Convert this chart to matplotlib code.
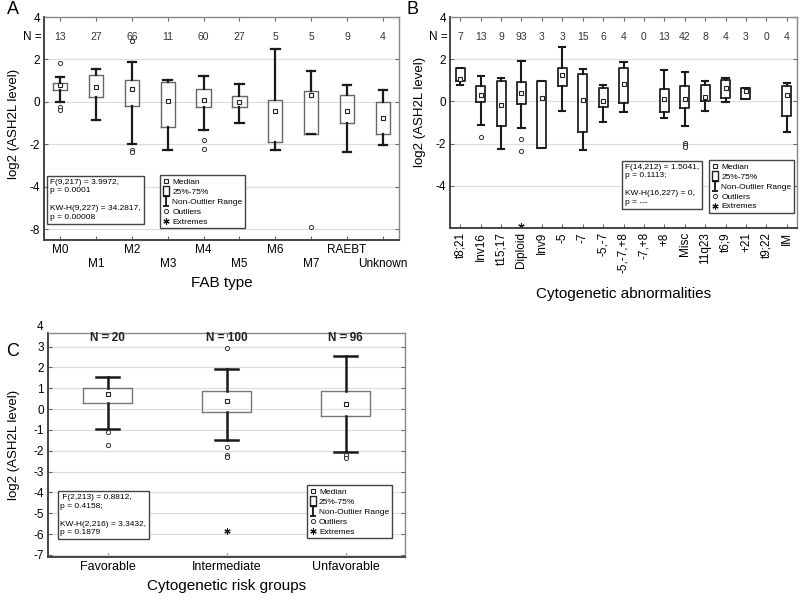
import matplotlib
matplotlib.use('Agg')
import matplotlib.pyplot as plt
import numpy as np
from matplotlib.lines import Line2D
from matplotlib.path import Path

plt.rcParams['font.family'] = ['Liberation Sans', 'DejaVu Sans']

nan = np.nan

# Panel A: FAB type
a_cats = ['M0', 'M1', 'M2', 'M3', 'M4', 'M5', 'M6', 'M7', 'RAEBT', 'Unknown']
a_n = [13, 27, 66, 11, 60, 27, 5, 5, 9, 4]
a_med = [0.80, 0.70, 0.60, 0.05, 0.10, 0.02, -0.41, 0.33, -0.44, -0.76]
a_q1 = [0.56, 0.22, -0.20, -1.19, -0.25, -0.22, -1.90, -1.52, -1.00, -1.52]
a_q3 = [0.90, 1.28, 1.02, 0.93, 0.60, 0.29, 0.08, 0.50, 0.31, 0.02]
a_lo = [0.00, -0.86, -1.99, -2.27, -1.34, -0.97, -2.27, -1.52, -2.37, -2.04]
a_hi = [1.18, 1.53, 1.87, 1.02, 1.24, 0.86, 2.51, 1.47, 0.78, 0.58]
a_out = [[1.82, -0.25, -0.38], [], [2.87, -2.25, -2.38], [], [-1.80, -2.22],
         [], [], [-5.90], [], []]
a_ext = [[], [], [], [], [], [], [], [], [], []]

# Panel B: cytogenetic abnormalities
b_cats = ['t8;21', 'Inv16', 't15;17', 'Diploid', 'Inv9', '-5', '-7', '-5,-7',
          '-5,-7,+8', '-7,+8', '+8', 'Misc', '11q23', 't6;9', '+21', 't9;22', 'IM']
b_n = [7, 13, 9, 93, 3, 3, 15, 6, 4, 0, 13, 42, 8, 4, 3, 0, 4]
b_med = [1.08, 0.32, -0.16, 0.40, 0.16, 1.27, 0.05, 0.02, 0.84, nan,
         0.13, 0.13, 0.19, 0.63, 0.47, nan, 0.32]
b_q1 = [0.98, -0.01, -1.18, -0.12, -2.21, 0.71, -1.47, -0.27, -0.08, nan,
        -0.52, -0.31, 0.00, 0.14, 0.13, nan, -0.71]
b_q3 = [1.58, 0.71, 0.95, 0.92, 0.95, 1.58, 1.30, 0.63, 1.58, nan,
        0.60, 0.73, 0.76, 1.00, 0.63, nan, 0.71]
b_lo = [0.76, -1.10, -2.26, -1.26, -2.21, -0.44, -2.32, -1.00, -0.50, nan,
        -0.79, -1.18, -0.47, -0.05, 0.13, nan, -1.47]
b_hi = [1.58, 1.22, 1.09, 1.93, 0.95, 2.56, 1.53, 0.79, 1.87, nan,
        1.47, 1.39, 0.95, 1.11, 0.63, nan, 0.87]
b_out = [[], [-1.67], [], [-1.78, -2.37], [], [], [], [], [], [],
         [], [-1.97, -2.08, -2.16], [], [], [], [], []]
b_ext = [[], [], [], [-5.92], [], [], [], [], [], [], [], [], [], [], [], [], []]

# Panel C: cytogenetic risk groups
c_cats = ['Favorable', 'Intermediate', 'Unfavorable']
c_n = [20, 100, 96]
c_med = [0.70, 0.38, 0.24]
c_q1 = [0.27, -0.13, -0.35]
c_q3 = [1.02, 0.88, 0.88]
c_lo = [-0.96, -1.48, -2.04]
c_hi = [1.55, 1.91, 2.55]
c_out = [[-1.12, -1.72], [2.95, -1.80, -2.20, -2.30], [-2.20, -2.33]]
c_ext = [[], [-5.87], []]

a_stats = 'F(9,217) = 3.9972,\np = 0.0001\n\nKW-H(9,227) = 34.2817,\np = 0.00008'
b_stats = 'F(14,212) = 1.5041,\np = 0.1113;\n\nKW-H(16,227) = 0,\np = ---'
c_stats = ' F(2,213) = 0.8812,\np = 0.4158;\n\nKW-H(2,216) = 3.3432,\np = 0.1879'

leg_labels = ['Median', '25%-75%', 'Non-Outlier Range', 'Outliers', 'Extremes']


def draw_boxes(ax, med, q1, q3, lo, hi, out, ext, width, cap, edge, elw, wlw):
    stats, pos = [], []
    for i in range(len(med)):
        if np.isnan(med[i]):
            continue
        stats.append(dict(med=med[i], mean=med[i], q1=q1[i], q3=q3[i],
                          whislo=lo[i], whishi=hi[i], fliers=np.array(out[i])))
        pos.append(i + 1)
    ax.bxp(stats, positions=pos, widths=width, capwidths=cap,
           showmeans=True, manage_ticks=False,
           boxprops=dict(color=edge, lw=elw),
           whiskerprops=dict(color='#1a1a1a', lw=wlw),
           capprops=dict(color='#1a1a1a', lw=wlw),
           medianprops=dict(visible=False),
           meanprops=dict(marker='s', ms=3.3, mfc='white', mec='#222', mew=0.8),
           flierprops=dict(marker='o', ms=3, mfc='white', mec='#333', mew=0.7))
    for i, vals in enumerate(ext):
        if vals:
            ax.plot([i + 1] * len(vals), vals, ls='none', marker=(6, 2, 0),
                    ms=4.5, mec='#111', mew=0.8)


def style_axes(ax):
    ax.set_facecolor('white')
    ax.set_axisbelow(True)
    ax.yaxis.grid(True, color='#dcdcdc', lw=0.8)
    for s in ['left', 'bottom']:
        ax.spines[s].set_color('#444')
        ax.spines[s].set_linewidth(1.4)
    for s in ['top', 'right']:
        ax.spines[s].set_color('#888')
        ax.spines[s].set_linewidth(1.0)
    ax.tick_params(axis='both', direction='in', length=3, width=0.8,
                   color='#666', labelsize=8.5, pad=3)
    ax.tick_params(axis='y', right=True)
    ax.tick_params(axis='x', top=True)


def add_legend(ax, x, y):
    rect = Path([(-0.6, -1), (0.6, -1), (0.6, 1), (-0.6, 1), (-0.6, -1)])
    ibeam = Path([(-0.6, 1), (0.6, 1), (0, 1), (0, -1), (-0.6, -1), (0.6, -1)],
                 [Path.MOVETO, Path.LINETO, Path.MOVETO, Path.LINETO,
                  Path.MOVETO, Path.LINETO])
    handles = [
        Line2D([], [], ls='none', marker='s', ms=3.3, mfc='white', mec='#222', mew=0.8),
        Line2D([], [], ls='none', marker=rect, ms=6.5, mfc='white', mec='#222', mew=1.0),
        Line2D([], [], ls='none', marker=ibeam, ms=7, mfc='none', mec='#111', mew=1.3),
        Line2D([], [], ls='none', marker='o', ms=3, mfc='white', mec='#333', mew=0.7),
        Line2D([], [], ls='none', marker=(6, 2, 0), ms=4.5, mec='#111', mew=0.8),
    ]
    leg = ax.legend(handles, leg_labels, loc='upper left', bbox_to_anchor=(x, y),
                    fontsize=6, frameon=True, fancybox=False, framealpha=1,
                    edgecolor='#444', handlelength=0.8, handletextpad=0.3,
                    borderpad=0.35, labelspacing=0.25, borderaxespad=0)
    leg.get_frame().set_linewidth(1.0)


def add_stats(ax, x, y, txt):
    ax.text(x, y, txt, transform=ax.transAxes, ha='left', va='top', fontsize=6,
            linespacing=1.35,
            bbox=dict(boxstyle='square,pad=0.35', fc='white', ec='#444', lw=1.0))


fig = plt.figure(figsize=(8, 5.98), dpi=100)

# ---------- A ----------
axA = fig.add_axes([44 / 800, 1 - 240 / 598, 355 / 800, 223 / 598])
style_axes(axA)
draw_boxes(axA, a_med, a_q1, a_q3, a_lo, a_hi, a_out, a_ext, 0.4, 0.24, '#666', 1.0, 1.6)
axA.set_xlim(0.55, 10.45)
axA.set_ylim(-6.5, 4)
axA.set_yticks([4, 2, 0, -2, -4, -6])
axA.set_yticklabels(['4', '2', '0', '-2', '-4', '-8'])
axA.set_xticks(range(1, len(a_cats) + 1))
axA.set_xticklabels(a_cats)
# staggered category labels: every second one on a lower row
for i, tick in enumerate(axA.xaxis.get_major_ticks()):
    if i % 2 == 1:
        tick.set_pad(13)
for i, n in enumerate(a_n):
    axA.text(i + 1, 3.06, str(n), ha='center', va='center', fontsize=7.5, color='#333')
axA.text(-0.006, 3.06, 'N =', transform=axA.get_yaxis_transform(), ha='right',
         va='center', fontsize=8.5)
axA.set_xlabel('FAB type', fontsize=11)
axA.xaxis.set_label_coords(0.5, -0.16)
axA.set_ylabel('log2 (ASH2L level)', fontsize=9.5)
axA.yaxis.set_label_coords(-0.068, 0.52)
add_stats(axA, 0.018, 0.275, a_stats)
add_legend(axA, 0.327, 0.291)

# ---------- B ----------
axB = fig.add_axes([450 / 800, 1 - 228 / 598, 347 / 800, 211 / 598])
style_axes(axB)
draw_boxes(axB, b_med, b_q1, b_q3, b_lo, b_hi, b_out, b_ext, 0.44, 0.3, '#222', 1.3, 1.5)
axB.set_xlim(0.5, 17.5)
axB.set_ylim(-6, 4)
axB.set_yticks([4, 2, 0, -2, -4])
axB.set_yticklabels(['4', '2', '0', '-2', '-4'])
axB.set_xticks(range(1, len(b_cats) + 1))
axB.set_xticklabels(b_cats, rotation=90)
for i, n in enumerate(b_n):
    axB.text(i + 1, 3.07, str(n), ha='center', va='center', fontsize=7.5, color='#333')
axB.text(-0.006, 3.07, 'N =', transform=axB.get_yaxis_transform(), ha='right',
         va='center', fontsize=8.5)
axB.set_xlabel('Cytogenetic abnormalities', fontsize=11)
axB.xaxis.set_label_coords(0.5, -0.28)
axB.set_ylabel('log2 (ASH2L level)', fontsize=9.5)
axB.yaxis.set_label_coords(-0.069, 0.55)
add_stats(axB, 0.503, 0.305, b_stats)
add_legend(axB, 0.747, 0.322)

# ---------- C ----------
axC = fig.add_axes([48 / 800, 1 - 557 / 598, 357 / 800, 224 / 598])
style_axes(axC)
draw_boxes(axC, c_med, c_q1, c_q3, c_lo, c_hi, c_out, c_ext, 0.42, 0.2, '#777', 1.0, 1.8)
axC.set_xlim(0.5, 3.5)
axC.set_ylim(-7.1, 3.65)
axC.set_yticks(range(-7, 4))
axC.set_yticklabels([str(v) for v in range(-7, 4)])
axC.text(-0.012, 1.027, '4', transform=axC.transAxes, ha='right', va='center',
         fontsize=8.5)
axC.set_xticks(range(1, len(c_cats) + 1))
axC.set_xticklabels(c_cats, fontsize=9)
for i, n in enumerate(c_n):
    axC.text(i + 1, 3.42, 'N = %d' % n, ha='center', va='center', fontsize=8.5,
             fontweight='bold', color='#222')
axC.set_xlabel('Cytogenetic risk groups', fontsize=11)
axC.xaxis.set_label_coords(0.5, -0.1)
axC.set_ylabel('log2 (ASH2L level)', fontsize=9.5)
axC.yaxis.set_label_coords(-0.078, 0.5)
add_stats(axC, 0.035, 0.28, c_stats)
add_legend(axC, 0.725, 0.321)

fig.text(7 / 800, 1 - 10 / 598, 'A', fontsize=13, va='center', ha='left')
fig.text(407 / 800, 1 - 10 / 598, 'B', fontsize=13, va='center', ha='left')
fig.text(6 / 800, 1 - 352 / 598, 'C', fontsize=13, va='center', ha='left')

fig.savefig('out.png', dpi=100, facecolor='white')
